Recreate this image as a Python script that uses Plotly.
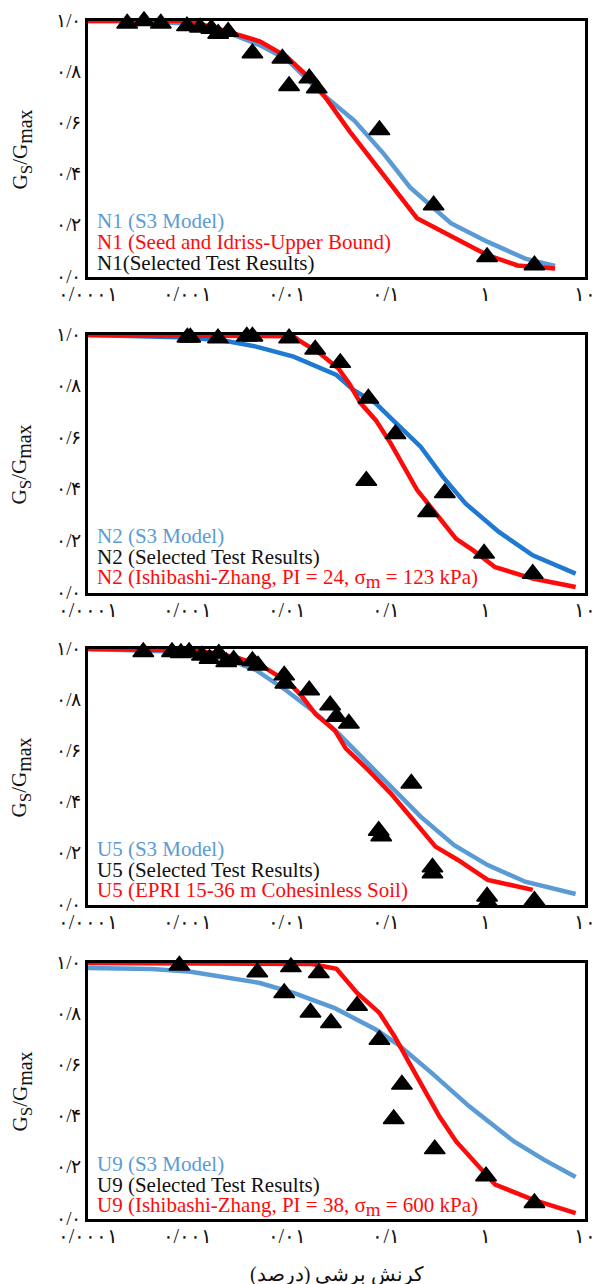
import plotly.graph_objects as go

# ---------------- data (strain in %, G/Gmax) ----------------
X_TICK_VALS = [0.0001, 0.001, 0.01, 0.1, 1, 10]
X_TICK_TEXT = ["۰/۰۰۰۱", "۰/۰۰۱", "۰/۰۱", "۰/۱", "۱", "۱۰"]
Y_TICK_VALS = [0, 0.2, 0.4, 0.6, 0.8, 1.0]
Y_TICK_TEXT = ["۰/۰", "۰/۲", "۰/۴", "۰/۶", "۰/۸", "۱/۰"]

# Panel N1
n1_s3_x = [0.0001, 0.00032, 0.001, 0.0025, 0.0054, 0.01, 0.022, 0.048, 0.095, 0.174, 0.447, 1.05, 2.5, 5.0]
n1_s3_y = [1.0, 1.0, 0.99, 0.955, 0.905, 0.85, 0.72, 0.61, 0.48, 0.35, 0.21, 0.137, 0.072, 0.043]
n1_ref_x = [0.0001, 0.00105, 0.00245, 0.0054, 0.01, 0.0166, 0.0257, 0.0427, 0.0776, 0.11, 0.204, 0.447, 1.05, 2.09, 5.0]
n1_ref_y = [1.0, 1.0, 0.96, 0.92, 0.86, 0.78, 0.69, 0.57, 0.44, 0.365, 0.23, 0.16, 0.085, 0.045, 0.033]
n1_test_x = [0.000248, 0.000366, 0.00054, 0.00099, 0.00134, 0.00174, 0.00204, 0.00257, 0.00451, 0.00902,
             0.01054, 0.01683, 0.02, 0.0855, 0.30, 1.035, 3.1]
n1_test_y = [0.99, 1.0, 0.99, 0.98, 0.975, 0.97, 0.95, 0.958, 0.874, 0.854,
             0.746, 0.776, 0.737, 0.574, 0.28, 0.078, 0.046]

# Panel N2
n2_s3_x = [0.0001, 0.00104, 0.00246, 0.00492, 0.0117, 0.0196, 0.0316, 0.0468, 0.0785, 0.121, 0.222, 0.372, 0.627, 1.36, 2.98, 8.05]
n2_s3_y = [1.0, 0.99, 0.977, 0.955, 0.916, 0.877, 0.845, 0.787, 0.735, 0.664, 0.567, 0.45, 0.347, 0.237, 0.146, 0.075]
n2_ref_x = [0.0001, 0.0117, 0.0139, 0.0214, 0.0331, 0.0427, 0.0555, 0.0785, 0.111, 0.144, 0.204, 0.313, 0.505, 0.745, 1.25, 2.98, 8.05]
n2_ref_y = [1.0, 0.995, 0.974, 0.929, 0.87, 0.81, 0.735, 0.67, 0.58, 0.50, 0.40, 0.31, 0.21, 0.166, 0.10, 0.056, 0.023]
n2_test_x = [0.001, 0.00107, 0.00203, 0.00396, 0.00451, 0.01054, 0.0193, 0.0345, 0.0661, 0.124,
             0.0631, 0.389, 0.264, 0.966, 2.98]
n2_test_y = [0.99, 0.99, 0.987, 0.994, 0.994, 0.987, 0.944, 0.892, 0.754, 0.616,
             0.435, 0.388, 0.314, 0.153, 0.075]

# Panel U5
u5_s3_x = [0.0001, 0.00104, 0.00246, 0.00492, 0.0098, 0.018, 0.033, 0.0605, 0.111, 0.222, 0.483, 1.05, 2.5, 8.05]
u5_s3_y = [1.0, 0.988, 0.962, 0.917, 0.839, 0.761, 0.67, 0.566, 0.462, 0.345, 0.234, 0.156, 0.091, 0.043]
u5_ref_x = [0.0001, 0.00104, 0.00174, 0.00319, 0.00585, 0.01026, 0.0139, 0.0196, 0.0303, 0.0393, 0.0661, 0.111, 0.187, 0.313, 0.527, 1.05, 2.98]
u5_ref_y = [1.0, 0.995, 0.986, 0.966, 0.93, 0.871, 0.82, 0.744, 0.683, 0.611, 0.527, 0.436, 0.332, 0.228, 0.176, 0.098, 0.059]
u5_test_x = [0.00036, 0.0007, 0.00086, 0.00104, 0.0014, 0.00167, 0.00207, 0.00246, 0.00292, 0.00451,
             0.00513, 0.00942, 0.00966, 0.0168, 0.0273, 0.0316, 0.0421, 0.179, 0.0841, 0.0891,
             0.292, 0.292, 1.035, 1.05, 3.1]
u5_test_y = [0.988, 0.988, 0.984, 0.988, 0.975, 0.962, 0.982, 0.949, 0.958, 0.953,
             0.936, 0.897, 0.865, 0.839, 0.78, 0.735, 0.709, 0.475, 0.29, 0.269,
             0.147, 0.124, 0.033, 0.01, 0.017]

# Panel U9
u9_s3_x = [0.0001, 0.000436, 0.00104, 0.00246, 0.00536, 0.0117, 0.0303, 0.0785, 0.132, 0.288, 0.684, 1.93, 3.85, 8.05]
u9_s3_y = [0.98, 0.977, 0.967, 0.945, 0.922, 0.883, 0.824, 0.74, 0.681, 0.57, 0.44, 0.303, 0.232, 0.164]
u9_ref_x = [0.0001, 0.018, 0.0316, 0.0509, 0.0855, 0.121, 0.171, 0.242, 0.342, 0.505, 0.745, 1.25, 2.98, 8.05]
u9_ref_y = [1.0, 0.996, 0.977, 0.883, 0.805, 0.714, 0.609, 0.505, 0.401, 0.303, 0.232, 0.134, 0.076, 0.023]
u9_test_x = [0.00083, 0.00505, 0.011, 0.021, 0.00942, 0.0173, 0.0278, 0.0509, 0.0855, 0.144,
             0.119, 0.308, 1.01, 3.1]
u9_test_y = [0.99, 0.964, 0.984, 0.961, 0.883, 0.807, 0.766, 0.833, 0.70, 0.525,
             0.391, 0.273, 0.167, 0.0625]

# Legend texts
SUB_M = '<sub><span style="font-size:19px">m</span></sub>'
legend_n1 = ["N1 (S3 Model)", "N1 (Seed and Idriss-Upper Bound)", "N1(Selected Test Results)"]
legend_n2 = ["N2 (S3 Model)", "N2 (Selected Test Results)", "N2 (Ishibashi-Zhang, PI = 24, σ" + SUB_M + " = 123 kPa)"]
legend_u5 = ["U5 (S3 Model)", "U5 (Selected Test Results)", "U5 (EPRI 15-36 m Cohesinless Soil)"]
legend_u9 = ["U9 (S3 Model)", "U9 (Selected Test Results)", "U9 (Ishibashi-Zhang, PI = 38, σ" + SUB_M + " = 600 kPa)"]

X_TITLE = "کرنش برشی (درصد)"
Y_TITLE = ('G<sub><span style="font-size:17px">S</span></sub>/G'
           '<sub><span style="font-size:20px">max</span></sub>')

# ---------------- styling ----------------
W, H = 601, 1284
ML, MR, MT, MB = 88, 5, 21, 65
PLOT_H = H - MT - MB
BLUE = "#5b9bd5"
BLUE_DARK = "#1f78d1"
RED = "#ff0a0a"
BLACK = "#111111"
SERIF = "Liberation Serif, Times New Roman, DejaVu Serif, serif"


def ypaper(py):
    return (H - MB - py) / PLOT_H


panel_px = [(21, 277), (335, 593), (649, 905), (963, 1219)]
domains = [[ypaper(b), ypaper(t)] for (t, b) in panel_px]

panels = [
    dict(s3=(n1_s3_x, n1_s3_y), ref=(n1_ref_x, n1_ref_y), test=(n1_test_x, n1_test_y),
         blue=BLUE, legend=legend_n1, colors=[BLUE, RED, BLACK], ly=[221, 242, 263]),
    dict(s3=(n2_s3_x, n2_s3_y), ref=(n2_ref_x, n2_ref_y), test=(n2_test_x, n2_test_y),
         blue=BLUE_DARK, legend=legend_n2, colors=[BLUE, BLACK, RED], ly=[536, 557, 578]),
    dict(s3=(u5_s3_x, u5_s3_y), ref=(u5_ref_x, u5_ref_y), test=(u5_test_x, u5_test_y),
         blue=BLUE, legend=legend_u5, colors=[BLUE, BLACK, RED], ly=[849, 870, 890]),
    dict(s3=(u9_s3_x, u9_s3_y), ref=(u9_ref_x, u9_ref_y), test=(u9_test_x, u9_test_y),
         blue=BLUE, legend=legend_u9, colors=[BLUE, BLACK, RED], ly=[1164, 1185, 1206]),
]

fig = go.Figure()
annotations = []
layout = dict(
    width=W, height=H,
    margin=dict(l=ML, r=MR, t=MT, b=MB, pad=0),
    paper_bgcolor="white", plot_bgcolor="white",
    showlegend=False,
    font=dict(family=SERIF, color=BLACK, size=16),
)

for i, p in enumerate(panels):
    n = i + 1
    xa = "x" if n == 1 else f"x{n}"
    ya = "y" if n == 1 else f"y{n}"
    fig.add_trace(go.Scatter(x=p["s3"][0], y=p["s3"][1], mode="lines",
                             line=dict(color=p["blue"], width=4.5), xaxis=xa, yaxis=ya))
    fig.add_trace(go.Scatter(x=p["ref"][0], y=p["ref"][1], mode="lines",
                             line=dict(color=RED, width=4.5), xaxis=xa, yaxis=ya))
    fig.add_trace(go.Scatter(x=p["test"][0], y=p["test"][1], mode="markers", cliponaxis=False,
                             marker=dict(symbol="triangle-up", size=18, color="black",
                                         line=dict(color="black", width=1.5)),
                             xaxis=xa, yaxis=ya))
    axis_common = dict(showline=True, linecolor="black", linewidth=2.5, mirror=True,
                       showgrid=False, zeroline=False, ticks="",
                       ticklabeloverflow="allow")
    layout["xaxis" if n == 1 else f"xaxis{n}"] = dict(
        type="log", range=[-4, 1], tickvals=X_TICK_VALS, ticktext=X_TICK_TEXT,
        anchor=ya, domain=[0, 1], ticklabelstandoff=-3,
        tickfont=dict(family=SERIF, size=20, color=BLACK), **axis_common)
    layout["yaxis" if n == 1 else f"yaxis{n}"] = dict(
        range=[0, 1], tickvals=Y_TICK_VALS, ticktext=Y_TICK_TEXT,
        anchor=xa, domain=domains[i], ticklabelshift=-1,
        tickfont=dict(family=SERIF, size=19, color=BLACK), **axis_common)
    # y title
    t, b = panel_px[i]
    annotations.append(dict(text=Y_TITLE, xref="paper", yref="paper",
                            x=(20 - ML) / (W - ML - MR), y=ypaper((t + b) / 2),
                            showarrow=False, textangle=-90, xanchor="center", yanchor="middle",
                            font=dict(family=SERIF, size=21, color=BLACK)))
    # legend text
    for txt, col, py in zip(p["legend"], p["colors"], p["ly"]):
        annotations.append(dict(text=txt, xref="paper", yref="paper",
                                x=(95 - ML) / (W - ML - MR), y=ypaper(py),
                                showarrow=False, xanchor="left", yanchor="middle",
                                font=dict(family=SERIF, size=21, color=col)))

annotations.append(dict(text=X_TITLE, xref="paper", yref="paper", x=0.5, y=ypaper(1274),
                        showarrow=False, xanchor="center", yanchor="middle",
                        font=dict(family=SERIF, size=20, color=BLACK)))
layout["annotations"] = annotations
fig.update_layout(**layout)
fig.write_html("out.html")
